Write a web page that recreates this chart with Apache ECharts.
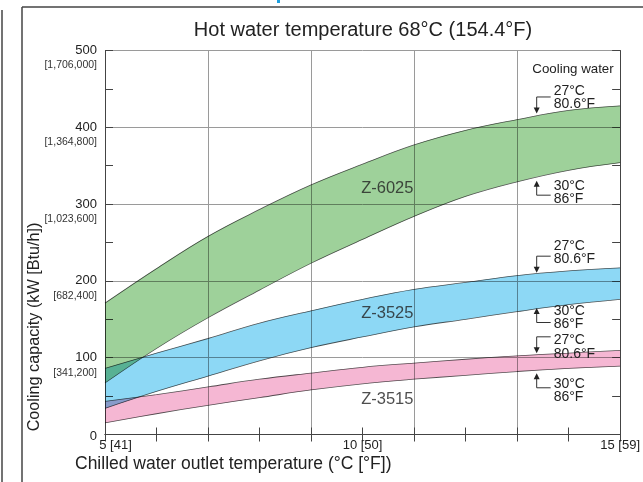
<!DOCTYPE html>
<html><head><meta charset="utf-8">
<script src="https://cdn.jsdelivr.net/npm/echarts@6/dist/echarts.min.js"></script>
<style>html,body{margin:0;padding:0;background:#fff}#c{width:643px;height:482px}</style>
</head><body><div id="c"></div>
<script>
// Chilled water outlet temperature (°C)
const temps = [5,6,7,8,9,10,11,12,13,14,15];
// Cooling capacity (kW): upper curve = cooling water 27°C, lower = 30°C
const z6025_cw27 = [171,216,258,293,325,352,377,396,410,422,428];
const z6025_cw30 = [67,112,152,188,223,254,284,310,329,344,354];
const z3525_cw27 = [86,106,125,145,161,176,189,198,207,213,217];
const z3525_cw30 = [34,56,76,96,113,127,140,150,160,169,176];
const z3515_cw27 = [43,52,62,72,80,87.5,93,98,102.5,106,109.5];
const z3515_cw30 = [15,27,38,48,58,66,72,77,82,86,89];
const models = ['Z-6025','Z-3525','Z-3515'];
const modelColors = ['#9ed19a','#8dd8f5','#f5b7d3'];
const modelLabelAt = [[10.48,321],[10.48,158],[10.48,45]];
const xTickLabels = {5:'5 [41]',10:'10 [50]',15:'15 [59]'};
const yTicks = [0,100,200,300,400,500];
const yBtu = ['','[341,200]','[682,400]','[1,023,600]','[1,364,800]','[1,706,000]'];
const noteT = 13.38;
const notes = [
  {dir:'down', tip:418, textDy:-22.8, lines:['27°C','80.6°F']},
  {dir:'up',   tip:330.5, textDy:5.3, lines:['30°C','86°F']},
  {dir:'down', tip:210.7, textDy:-26.7, lines:['27°C','80.6°F']},
  {dir:'up',   tip:164.7, textDy:3, lines:['30°C','86°F']},
  {dir:'down', tip:105.7, textDy:-12.8, lines:['27°C','80.6°F']},
  {dir:'up',   tip:79.7, textDy:10.7, lines:['30°C','86°F']}
];

const FONT = '"Liberation Sans", Arial, Helvetica, sans-serif';
const chart = echarts.init(document.getElementById('c'), null, {renderer:'canvas'});

const bands = [[z6025_cw30, z6025_cw27],[z3525_cw30, z3525_cw27],[z3515_cw30, z3515_cw27]];
const series = [];
bands.forEach((b, k) => {
  const lower = b[0], upper = b[1];
  const ls = {color:'#555', width:0.8};
  series.push({
    type:'line', name: models[k] + ' 30°C', stack: 's'+k, smooth:0.4,
    data: lower, symbol:'none', lineStyle: ls, silent:true, blendMode:'multiply', z:2
  });
  series.push({
    type:'line', name: models[k] + ' 27°C', stack: 's'+k, smooth:0.4,
    data: upper.map((v,i) => v - lower[i]), symbol:'none', lineStyle: ls,
    areaStyle:{color: modelColors[k], opacity:1}, silent:true, blendMode:'multiply', z:2
  });
});
series.push({
  type:'scatter', xAxisIndex:2, symbolSize:0, data: modelLabelAt.map(p => [p[0], p[1]]), silent:true, z:5,
  label:{show:true, position:'inside', formatter: p => models[p.dataIndex], fontSize:16.5, color:'#222', fontFamily:FONT}
});

const catX = temps.map(String);
chart.setOption({
  animation:false,
  backgroundColor:'#fff',
  grid:{left:105, right:21, top:50.5, bottom:47.5, containLabel:false},
  xAxis:[
    {type:'category', data:catX, boundaryGap:false, position:'bottom',
     axisLine:{lineStyle:{color:'#444', width:1}},
     axisTick:{show:true, inside:true, length:7, interval:0, lineStyle:{color:'#444'}},
     axisLabel:{interval:0, showMinLabel:true, showMaxLabel:true, margin:4, fontSize:13, color:'#222', fontFamily:FONT,
       formatter:(v) => { const t = +v; if (t === 5) return '{l|' + xTickLabels[5] + '}'; return xTickLabels[t] || ''; },
       rich:{l:{fontSize:13, color:'#222', fontFamily:FONT, padding:[0,0,0,21]}}},
     splitLine:{show:true, interval:(i) => i % 2 === 0 && i > 0 && i < 10, lineStyle:{color:'#9a9a9a', width:1}}},
    {type:'category', data:catX, boundaryGap:false, position:'top',
     axisLine:{lineStyle:{color:'#444', width:1}},
     axisTick:{show:true, inside:true, length:7, interval:0, lineStyle:{color:'#444'}},
     axisLabel:{show:false}, splitLine:{show:false}},
    {type:'value', min:5, max:15, show:false, position:'bottom', splitLine:{show:false}}
  ],
  yAxis:[
    {type:'value', min:0, max:500, interval:100, position:'left',
     axisLine:{show:true, lineStyle:{color:'#444', width:1}}, axisTick:{show:false},
     axisLabel:{margin:8, color:'#222', fontFamily:FONT,
       formatter:(v) => { const i = yTicks.indexOf(v); if (i <= 0) return '{z|0}'; return '{e| }\n{a|' + v + '}\n{b|' + yBtu[i] + '}'; },
       rich:{
         z:{fontSize:13, lineHeight:14, color:'#222', fontFamily:FONT, padding:[4,0,0,0]},
         e:{fontSize:10.5, lineHeight:16, fontFamily:FONT},
         a:{fontSize:13, lineHeight:14, color:'#222', fontFamily:FONT, align:'right'},
         b:{fontSize:10.5, lineHeight:16, color:'#333', fontFamily:FONT, align:'right'}
       }},
     splitLine:{show:true, lineStyle:{color:'#9a9a9a', width:1}}},
    {type:'value', min:0, max:500, interval:50, position:'left',
     axisLine:{show:false}, axisTick:{show:true, inside:true, length:8, lineStyle:{color:'#444'}},
     axisLabel:{show:false}, splitLine:{show:false}},
    {type:'value', min:0, max:500, interval:50, position:'right',
     axisLine:{show:true, lineStyle:{color:'#444', width:1}}, axisTick:{show:true, inside:true, length:8, lineStyle:{color:'#444'}},
     axisLabel:{show:false}, splitLine:{show:false}}
  ],
  series: series
});

// Annotations and frame
const g = [];
g.push({type:'line', shape:{x1:22, y1:7, x2:643, y2:7}, style:{stroke:'#444', lineWidth:1.5}, silent:true});
g.push({type:'line', shape:{x1:22, y1:7, x2:22, y2:482}, style:{stroke:'#444', lineWidth:1.5}, silent:true});
g.push({type:'line', shape:{x1:2, y1:10, x2:2, y2:482}, style:{stroke:'#444', lineWidth:1.5}, silent:true});
g.push({type:'rect', shape:{x:277, y:0, width:3, height:3}, style:{fill:'#1ea0e0'}, silent:true});
g.push({type:'text', x:363, y:30, style:{text:'Hot water temperature 68°C (154.4°F)', font:'20px ' + FONT, fill:'#222', align:'center', verticalAlign:'middle'}, silent:true});
g.push({type:'text', x:573, y:69, style:{text:'Cooling water', font:'13.3px ' + FONT, fill:'#222', align:'center', verticalAlign:'middle'}, silent:true});
g.push({type:'text', x:35, y:327, rotation:Math.PI/2, style:{text:'Cooling capacity (kW [Btu/h])', font:'16.2px ' + FONT, fill:'#222', align:'center', verticalAlign:'middle'}, silent:true});
g.push({type:'text', x:75, y:464, style:{text:'Chilled water outlet temperature (°C [°F])', font:'17.5px ' + FONT, fill:'#222', align:'left', verticalAlign:'middle'}, silent:true});

notes.forEach(n => {
  const p = chart.convertToPixel({xAxisIndex:2, yAxisIndex:0}, [noteT, n.tip]);
  const ax = p[0], ty = p[1];
  const st = {stroke:'#333', lineWidth:1, fill:null};
  if (n.dir === 'down') {
    const cy = ty - 16.5;
    g.push({type:'polyline', shape:{points:[[ax+14, cy],[ax, cy],[ax, ty-5]]}, style:st, silent:true});
    g.push({type:'polygon', shape:{points:[[ax-3, ty-6],[ax+3, ty-6],[ax, ty]]}, style:{fill:'#222'}, silent:true});
  } else {
    const cy = ty + 14.5;
    g.push({type:'polyline', shape:{points:[[ax+14, cy],[ax, cy],[ax, ty+5]]}, style:st, silent:true});
    g.push({type:'polygon', shape:{points:[[ax-3, ty+6],[ax+3, ty+6],[ax, ty]]}, style:{fill:'#222'}, silent:true});
  }
  n.lines.forEach((txt, j) => {
    g.push({type:'text', x:ax+17, y:ty + n.textDy + j*13.5, style:{text:txt, font:'14px ' + FONT, fill:'#222', align:'left', verticalAlign:'middle'}, silent:true, z:10});
  });
});
chart.setOption({graphic: g});
</script>
</body></html>
